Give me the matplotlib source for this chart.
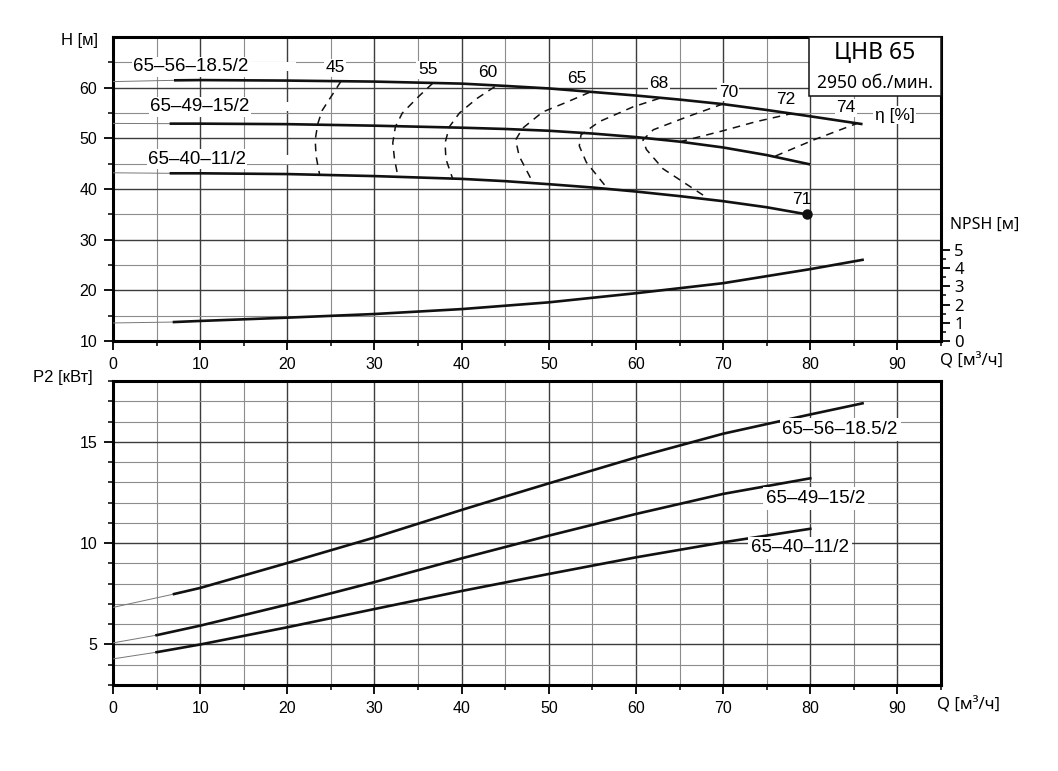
import matplotlib
matplotlib.use('Agg')
import matplotlib.pyplot as plt
from matplotlib.ticker import MultipleLocator, FixedLocator
from matplotlib.patches import Rectangle

plt.rcParams['font.family'] = ['Liberation Sans', 'DejaVu Sans']

# --- head curves H(Q) ---
q_h1 = [7, 10, 20, 30, 40, 45, 50, 55, 60, 65, 70, 75, 80, 86]
h1 = [61.45, 61.5, 61.4, 61.2, 60.8, 60.35, 59.85, 59.15, 58.45, 57.65, 56.75, 55.6, 54.35, 52.8]
q_h2 = [6.5, 10, 20, 30, 40, 45, 50, 55, 60, 65, 70, 75, 80]
h2 = [52.9, 52.9, 52.8, 52.5, 52.1, 51.85, 51.5, 50.95, 50.25, 49.35, 48.2, 46.7, 44.85]
q_h3 = [6.5, 10, 20, 30, 40, 45, 50, 55, 60, 65, 70, 75, 79.6]
h3 = [43.1, 43.1, 42.95, 42.55, 42.0, 41.55, 40.95, 40.3, 39.5, 38.6, 37.6, 36.4, 35.0]
h_ext = [61.2, 52.95, 43.2]          # thin extension at Q = 0
pump_names = ['65–56–18.5/2', '65–49–15/2', '65–40–11/2']

# --- NPSH ---
q_npsh = [7, 10, 20, 30, 40, 50, 60, 70, 80, 86]
npsh = [1.04, 1.10, 1.28, 1.48, 1.75, 2.12, 2.62, 3.17, 3.94, 4.45]
npsh_ext = 0.99

# --- iso-efficiency lines ---
eta_labels = ['45', '55', '60', '65', '68', '70', '72', '74']
eta_q = [
    [26.15, 25.2, 24.0, 23.5, 23.2, 23.3, 23.7],
    [36.7, 35.15, 33.2, 32.4, 32.1, 32.3, 32.7],
    [43.8, 41.7, 39.75, 38.6, 38.1, 38.2, 39.0],
    [54.7, 52.0, 49.3, 47.0, 46.2, 46.6, 48.2],
    [62.7, 59.65, 55.8, 53.7, 53.5, 54.3, 56.4],
    [70.0, 65.8, 62.0, 60.8, 61.2, 63.1, 67.7],
    [65.0, 70.0, 73.8, 77.9],
    [76.0, 80.4, 85.3],
]
eta_h = [
    [61.25, 58.7, 55.5, 52.9, 49.7, 46.5, 42.9],
    [60.9, 58.4, 55.0, 52.3, 49.1, 45.9, 42.4],
    [60.2, 57.8, 55.0, 52.3, 49.1, 45.9, 41.9],
    [59.1, 57.1, 55.2, 52.0, 49.7, 46.5, 41.2],
    [57.9, 56.2, 53.3, 50.7, 48.5, 45.3, 40.8],
    [56.8, 54.2, 51.7, 49.7, 47.8, 44.0, 38.8],
    [49.3, 51.5, 53.3, 54.9],
    [46.5, 49.7, 52.9],
]
eta_lbl_q = [25.5, 36.1, 43.0, 53.2, 62.6, 70.6, 77.2, 84.1]
eta_lbl_h = [63.9, 63.5, 62.9, 61.9, 60.9, 59.1, 57.6, 56.0]

# --- power P2(Q) ---
q_p1 = [7, 10, 20, 30, 40, 45, 50, 60, 70, 80, 86]
p1 = [7.49, 7.79, 9.02, 10.28, 11.64, 12.3, 12.95, 14.23, 15.4, 16.35, 16.9]
q_p2 = [5, 10, 20, 30, 40, 50, 60, 70, 80]
p2 = [5.46, 5.93, 6.97, 8.08, 9.25, 10.37, 11.44, 12.43, 13.2]
q_p3 = [5, 10, 20, 30, 40, 50, 60, 70, 80]
p3 = [4.62, 5.0, 5.85, 6.75, 7.64, 8.48, 9.3, 10.04, 10.71]
p_ext = [6.83, 5.08, 4.29]

MYR = ['Noto Sans', 'DejaVu Sans']
LW = 1.9
fig = plt.figure(figsize=(10.58, 7.71), dpi=100)
ax = fig.add_axes([0.1068, 0.5577, 0.7826, 0.3943])
axp = fig.add_axes([0.1068, 0.1115, 0.7826, 0.3943])


def style(a, ymaj, ymin):
    a.set_xlim(0, 95)
    a.xaxis.set_major_locator(FixedLocator(range(0, 91, 10)))
    a.xaxis.set_minor_locator(FixedLocator(range(5, 96, 10)))
    a.yaxis.set_major_locator(MultipleLocator(ymaj))
    a.yaxis.set_minor_locator(MultipleLocator(ymin))
    a.grid(which='major', color='#3c3c3c', lw=1.0, zorder=0)
    a.grid(which='minor', color='#8c8c8c', lw=0.8, zorder=0)
    a.set_axisbelow(True)
    a.tick_params(which='major', direction='out', length=6.5, width=1.3, labelsize=11.5, pad=5)
    a.tick_params(which='minor', direction='out', length=3.5, width=1.1)
    for s in a.spines.values():
        s.set_linewidth(2.2)


# ---------------- top panel ----------------
style(ax, 10, 5)
ax.set_ylim(10, 70)
ax.set_yticks(range(10, 61, 10))
ax.yaxis.set_minor_locator(FixedLocator(range(15, 70, 5)))

for q, h, h0 in zip([q_h1, q_h2, q_h3], [h1, h2, h3], h_ext):
    ax.plot([0, q[0]], [h0, h[0]], color='#777777', lw=0.7, zorder=3)
    ax.plot(q, h, color='#111111', lw=LW, zorder=4, solid_capstyle='butt')
ax.plot(q_h3[-1], h3[-1], 'o', color='#111111', ms=6.5, zorder=5)
ax.text(79.0, 38.0, '71', fontsize=12.5, ha='center', va='center', zorder=6)

for q, h in zip(eta_q, eta_h):
    ax.plot(q, h, color='#111111', lw=1.1, ls=(0, (5, 4)), zorder=3)
wbox = dict(facecolor='white', edgecolor='none', pad=1.0)
for lbl, q, h in zip(eta_labels, eta_lbl_q, eta_lbl_h):
    ax.text(q, h, lbl, fontsize=12.5, ha='center', va='center', bbox=wbox, zorder=6)
ax.text(89.7, 54.6, 'η [%]', fontsize=12.5, ha='center', va='center', bbox=wbox, zorder=6)

lbl_q = [2.3, 4.25, 4.0]
lbl_h = [64.1, 56.2, 45.9]
for name, q, h in zip(pump_names, lbl_q, lbl_h):
    ax.add_patch(Rectangle((q, h - 0.9), 21 - q, 1.8, facecolor='white', edgecolor='none', zorder=1))
    ax.text(q, h, name, fontsize=13.5, ha='left', va='center', bbox=wbox, zorder=6)

# NPSH on secondary scale
ax2 = ax.twinx()
ax2.set_ylim(0, 60 / 3.6)
ax2.yaxis.set_major_locator(FixedLocator(range(0, 6)))
ax2.yaxis.set_minor_locator(FixedLocator([0.5, 1.5, 2.5, 3.5, 4.5]))
ax2.tick_params(which='major', direction='out', length=6.5, width=1.3, labelsize=12, pad=3)
ax2.tick_params(which='minor', direction='out', length=3.5, width=1.1)
for lab in ax2.get_yticklabels():
    lab.set_family(MYR)
for s in ax2.spines.values():
    s.set_visible(False)
ax2.plot([0, q_npsh[0]], [npsh_ext, npsh[0]], color='#777777', lw=0.7)
ax2.plot(q_npsh, npsh, color='#111111', lw=LW)

# title box
ax.add_patch(Rectangle((79.9, 58.4), 15.1, 11.6, facecolor='white', edgecolor='#111111',
                       lw=1.1, zorder=7, clip_on=False))
ax.text(87.4, 66.9, 'ЦНВ 65', fontsize=16.5, family=MYR, ha='center', va='center', zorder=8)
ax.text(87.4, 60.9, '2950 об./мин.', fontsize=12.5, family=MYR, ha='center', va='center', zorder=8)

fig.text(0.093, 0.948, 'H [м]', fontsize=12, ha='right', va='center')
fig.text(0.898, 0.708, 'NPSH [м]', fontsize=11.5, family=MYR, ha='left', va='center')
fig.text(0.888, 0.531, 'Q [м³/ч]', fontsize=12, family=MYR, ha='left', va='center')

# ---------------- bottom panel ----------------
style(axp, 5, 1)
axp.set_ylim(3, 18)
axp.set_yticks([5, 10, 15])

for q, p, p0 in zip([q_p1, q_p2, q_p3], [p1, p2, p3], p_ext):
    axp.plot([0, q[0]], [p0, p[0]], color='#777777', lw=0.7, zorder=3)
    axp.plot(q, p, color='#111111', lw=LW, zorder=4)

plbl_q = [76.8, 74.9, 73.2]
plbl_p = [15.6, 12.2, 9.77]
for name, q, p in zip(pump_names, plbl_q, plbl_p):
    axp.text(q, p, name, fontsize=13.5, ha='left', va='center',
             bbox=dict(facecolor='white', edgecolor='none', pad=2.0), zorder=6)

fig.text(0.088, 0.511, 'P2 [кВт]', fontsize=12, ha='right', va='center')
fig.text(0.886, 0.0856, 'Q [м³/ч]', fontsize=12, family=MYR, ha='left', va='center')

fig.savefig('out.png', dpi=100)
